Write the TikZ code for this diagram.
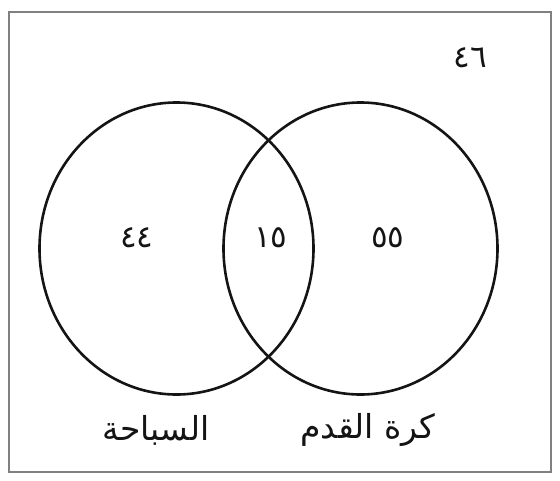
\documentclass[tikz,border=0pt]{standalone}
\usepackage{fontspec}
\usepackage{tikz}
\TeXXeTstate=1
\newfontfamily\arabicfont[Script=Arabic]{DejaVu Sans}
\definecolor{myframe}{RGB}{128,128,128}
\definecolor{mydark}{RGB}{20,20,20}
\tikzset{
  setline/.style={line width=2.6pt, color=mydark},
  count/.style={font=\arabicfont\fontsize{31}{36}\selectfont, color=mydark},
  setname/.style={font=\arabicfont\fontsize{33}{38}\selectfont, color=mydark}
}
\begin{document}
\begin{tikzpicture}[x=1pt,y=-1pt]
  \useasboundingbox (0,0) rectangle (560,480);
  % Frame
  \draw[myframe, line width=2.2pt] (9,12) rectangle (551,472);
  % Sets
  \draw[setline] (176.5,248.5) ellipse [x radius=137, y radius=146];
  \draw[setline] (360.5,248.5) ellipse [x radius=137, y radius=146];
  % Counts
  \node[count] (outside) at (470,58) {٤٦};
  \node[count] (swimonly) at (137,238) {٤٤};
  \node[count] (both) at (271,238) {١٥};
  \node[count] (footonly) at (388,238) {٥٥};
  % Set names
  \node[setname] (swim) at (156,430) {\beginR السباحة\endR};
  \node[setname] (foot) at (368,430) {\beginR كرة القدم\endR};
\end{tikzpicture}
\end{document}
